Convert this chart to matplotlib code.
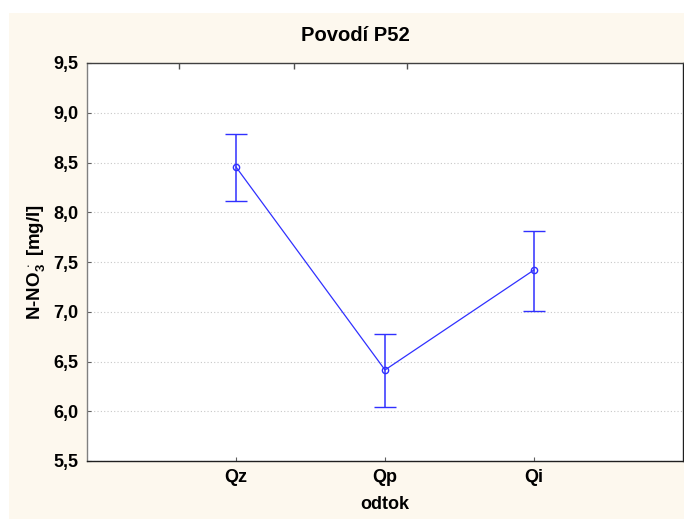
import matplotlib
matplotlib.use("Agg")
import matplotlib.pyplot as plt
from matplotlib.patches import Rectangle

plt.rcParams['font.family'] = ['Liberation Sans', 'DejaVu Sans']
plt.rcParams['mathtext.fontset'] = 'custom'
plt.rcParams['mathtext.bf'] = 'Liberation Sans:bold'
plt.rcParams['mathtext.rm'] = 'Liberation Sans:bold'
plt.rcParams['mathtext.it'] = 'Liberation Sans:bold'
plt.rcParams['mathtext.default'] = 'rm'

# data
categories = ['Qz', 'Qp', 'Qi']
means = [8.455, 6.415, 7.42]
upper = [8.79, 6.78, 7.81]
lower = [8.11, 6.04, 7.01]

yerr = [[m - lo for m, lo in zip(means, lower)],
        [hi - m for m, hi in zip(means, upper)]]
xpos = list(range(1, len(categories) + 1))

fig = plt.figure(figsize=(6.84, 5.19), dpi=100)
fig.patch.set_facecolor('white')
# cream panel behind the plot
fig.patches.append(Rectangle((9 / 684, 0), 1, 1 - 13 / 519, transform=fig.transFigure,
                             facecolor='#fdf8ee', edgecolor='none', zorder=-10))

ax = fig.add_axes([87 / 684, 58 / 519, (683 - 87) / 684, (461 - 63) / 519])
ax.set_facecolor('white')

blue = '#3030ff'
ax.errorbar(xpos, means, yerr=yerr, color=blue, lw=0.9, elinewidth=1.1,
            capsize=8, capthick=1.1, marker='o', ms=4.5, mfc='none', mec=blue, mew=1.0)

ax.set_xlim(0, len(categories) + 1)
ax.set_ylim(5.5, 9.5)
ax.set_xticks(xpos)
ax.set_xticklabels(categories, fontsize=13, fontweight='bold')
yt = [5.5 + 0.5 * i for i in range(9)]
ax.set_yticks(yt)
ax.set_yticklabels([f'{v:.1f}'.replace('.', ',') for v in yt], fontsize=13, fontweight='bold')
ax.yaxis.grid(True, linestyle=(0, (1, 2)), color='#c8c8c8', lw=0.8)
ax.set_axisbelow(True)
ax.tick_params(axis='both', direction='in', length=3, width=0.8, color='#606060')
ax.tick_params(axis='x', pad=6)
ax.tick_params(axis='y', pad=6)

# odd top ticks drawn by the original software
top = ax.twiny()
top.set_xlim(ax.get_xlim())
top.set_xticks([0.62, 1.39, 2.15])
top.set_xticklabels([])
top.tick_params(axis='x', direction='in', length=4, width=1.0, color='#505050')
for sp in top.spines.values():
    sp.set_visible(False)

for side in ['bottom', 'right', 'top']:
    ax.spines[side].set_color('#202020')
ax.spines['top'].set_color('#404040')
ax.spines['left'].set_color('#808080')
for sp in ax.spines.values():
    sp.set_linewidth(1.0)

ax.set_xlabel('odtok', fontsize=13, fontweight='bold', labelpad=7)
ax.set_ylabel(r'N-NO$_{3}^{\,\cdot}$ [mg/l]', fontsize=13.5, fontweight='bold', labelpad=5)
fig.text(355 / 684, 1 - 41 / 519, 'Povodí P52', fontsize=14.5, fontweight='bold',
         ha='center', va='baseline')

fig.savefig('out.png', dpi=100, facecolor=fig.get_facecolor())
